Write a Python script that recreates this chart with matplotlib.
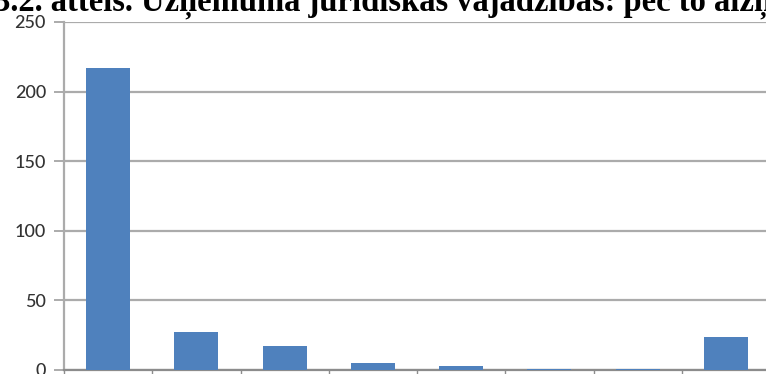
import matplotlib.pyplot as plt
import numpy as np

# bar heights per category (x labels fall below the visible area)
categories = ["1", "2", "3", "4", "5", "6", "7", "8"]
counts = [217, 27, 17, 5, 3, 1, 1, 24]
yticks = [0, 50, 100, 150, 200, 250]
title = "3.2. attēls. Uzņēmuma juridiskās vajadzības: pēc to aizņēmuma"

bar_color = "#4F81BD"
grid_color = "#ABABAB"
axis_color = "#8C8C8C"

fig = plt.figure(figsize=(7.66, 3.74), dpi=100)
ax = fig.add_axes([64 / 766, 4 / 374, 706 / 766, 348 / 374])

x = np.arange(len(categories))
ax.bar(x, counts, width=0.5, color=bar_color, zorder=3)

ax.set_xlim(-0.5, len(categories) - 0.5)
ax.set_ylim(0, 250)
ax.set_yticks(yticks)
ax.set_yticklabels([str(v) for v in yticks], family="Lato", fontsize=13,
                   fontweight="medium", color="#333333")
ax.yaxis.grid(True, color=grid_color, linewidth=1.6, zorder=0)

# category boundary ticks on the x axis
ax.set_xticks(np.arange(len(categories) + 1) - 0.5)
ax.set_xticklabels([])
ax.tick_params(axis="x", length=6, width=1, color=axis_color, direction="out")
ax.tick_params(axis="y", length=7, width=1.4, color=grid_color, pad=6)

for side in ["top", "right"]:
    ax.spines[side].set_visible(False)
ax.spines["left"].set_color(grid_color)
ax.spines["left"].set_linewidth(1.6)
ax.spines["bottom"].set_color(axis_color)
ax.spines["bottom"].set_linewidth(1.6)

# heading sits partly above the top edge of the figure
fig.text(-0.008, 1 - 10.5 / 374, title, family="Liberation Serif",
         fontweight="bold", fontsize=23.5, va="baseline", ha="left",
         color="black")

fig.savefig("out.png", dpi=100)
